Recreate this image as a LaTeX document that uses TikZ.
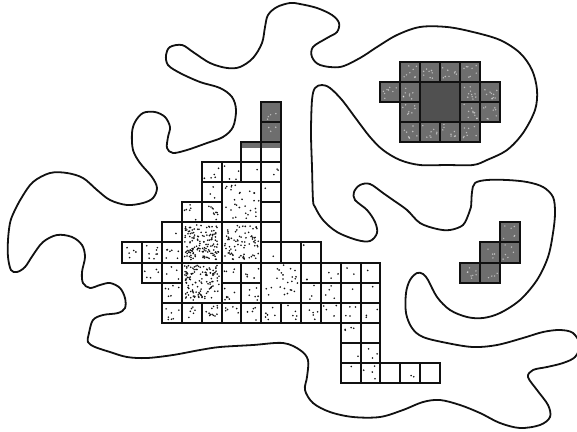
\documentclass[tikz,border=0pt]{standalone}
\usepackage{tikz}
\definecolor{tinta}{HTML}{111111}
\definecolor{sombra}{HTML}{6E6E6E}
\definecolor{oscuro}{HTML}{505050}

\begin{document}
\begin{tikzpicture}[
  x=1pt, y=-1pt,
  borde/.style={draw=tinta, line width=1.8pt},
  celda/.style={draw=tinta, line width=2pt, fill=white},
  gris/.style={celda, fill=sombra},
  grisosc/.style={celda, fill=oscuro},
  punto/.style={fill=tinta},
  brillo/.style={fill=white, opacity=0.55}
]
\useasboundingbox (0,0) rectangle (577,431);
\pgfmathsetseed{4711}

% contorno
\draw[borde] plot[smooth cycle, tension=0.55] coordinates {
  (300,4) (290,3) (277,7) (268,15) (265,27) (262,43) (253,58) (240,67)
  (227,68) (210,63) (193,52) (182,45) (170,47) (166,55) (168,65) (180,73)
  (200,82) (220,88) (232,97) (236,110) (233,127) (223,137) (207,143)
  (187,150) (173,153) (167,148) (168,137) (170,127) (165,117) (155,112)
  (143,113) (135,122) (132,133) (133,150) (140,163) (152,177) (157,188)
  (153,198) (143,203) (127,205) (110,200) (97,190) (83,178) (67,173)
  (50,173) (33,182) (22,197) (14,212) (10,223) (8,240) (8,257) (11,270)
  (17,272) (25,267) (33,255) (43,242) (57,235) (72,237) (82,245) (85,257)
  (82,272) (83,283) (90,288) (100,285) (110,283) (120,288) (125,298)
  (125,308) (118,313) (103,315) (93,320) (89,333) (88,342) (95,347)
  (110,352) (127,357) (147,358) (173,355) (200,350) (220,347) (253,345)
  (283,343) (300,350) (308,360) (307,377) (305,390) (313,403) (330,412)
  (353,417) (380,417) (403,410) (423,402) (440,400) (460,405) (480,413)
  (500,423) (520,428) (540,425) (550,417) (548,405) (537,390) (528,377)
  (533,370) (547,367) (563,363) (575,357) (580,345) (573,333) (560,330)
  (543,332) (523,338) (497,345) (473,347) (447,343) (423,337) (412,328)
  (406,313) (406,293) (410,280) (417,273) (423,274) (428,280) (437,297)
  (450,310) (467,317) (483,318) (500,313) (520,300) (537,280) (548,257)
  (553,233) (555,213) (553,197) (543,187) (527,182) (507,180) (487,180)
  (475,183) (472,192) (471,207) (469,213) (463,225) (450,230) (437,229)
  (420,223) (407,210) (393,200) (383,193) (370,184) (360,185) (354,192)
  (355,200) (367,210) (375,222) (377,233) (370,241) (357,240) (337,232)
  (323,220) (315,207) (313,200) (312,167) (311,133) (312,100) (315,88)
  (322,85) (330,88) (342,100) (357,120) (370,137) (383,150) (400,160)
  (420,165) (447,165) (473,165) (487,160) (507,150) (523,133) (535,110)
  (537,90) (532,70) (520,53) (500,40) (473,32) (447,27) (420,27) (397,35)
  (377,47) (360,58) (340,67) (320,65) (312,57) (313,47) (327,38) (337,32)
  (339,23) (332,15) (317,8)};

% rejilla
\begin{scope}[shift={(122.3,101.7)}, x=19.86pt, y=-20.1pt]
  % casillas claras: columna/fila/ancho/alto/puntos
  \foreach \c/\r/\w/\h/\n in {
    6/2/1/1/0, 7/2/1/1/0,
    4/3/1/1/5, 5/3/1/1/4, 6/3/1/1/1, 7/3/1/1/3,
    4/4/1/1/3, 5/4/2/2/30, 7/4/1/1/1,
    3/5/1/1/6, 4/5/1/1/10, 7/5/1/1/0,
    2/6/1/1/1, 3/6/2/2/140, 5/6/2/2/80, 7/6/1/1/0,
    0/7/1/1/5, 1/7/1/1/8, 2/7/1/1/7, 7/7/1/1/1, 8/7/1/1/0, 9/7/1/1/1,
    1/8/1/1/5, 2/8/1/1/4, 3/8/2/2/120, 5/8/1/1/4, 6/8/1/1/5, 7/8/2/2/25,
    9/8/1/1/2, 10/8/1/1/3, 11/8/1/1/2, 12/8/1/1/1,
    2/9/1/1/6, 5/9/1/1/7, 6/9/1/1/6, 9/9/1/1/3, 10/9/1/1/4, 11/9/1/1/1,
    12/9/1/1/1,
    2/10/1/1/7, 3/10/1/1/6, 4/10/1/1/12, 5/10/1/1/6, 6/10/1/1/5,
    7/10/1/1/6, 8/10/1/1/5, 9/10/1/1/5, 10/10/1/1/4, 11/10/1/1/4,
    12/10/1/1/3,
    11/11/1/1/4, 12/11/1/1/0, 11/12/1/1/1, 12/12/1/1/3,
    11/13/1/1/1, 12/13/1/1/4, 13/13/1/1/0, 14/13/1/1/2, 15/13/1/1/0} {
    \draw[celda] (\c,\r) rectangle ++(\w,\h);
    \ifnum\n>0
      \foreach \k in {1,...,\n}
        \fill[punto] ({\c+0.13+(\w-0.26)*rnd},{\r+0.13+(\h-0.26)*rnd}) circle[radius=0.9pt];
    \fi
  }
  % franja oscura arriba
  \fill[sombra] (6,2) rectangle (8,2.3);
  \draw[celda, fill=none] (6,2) rectangle ++(1,1) (7,2) rectangle ++(1,1);

  % casillas grises: columna/fila/brillos
  \foreach \c/\r/\n in {7/0/4, 7/1/3,
                        14/-2/8, 15/-2/8, 16/-2/8, 17/-2/8, 13/-1/8, 14/-1/8,
                        17/-1/10, 18/-1/10, 14/0/8, 17/0/10, 18/0/8,
                        14/1/8, 15/1/8, 16/1/8, 17/1/8,
                        19/6/6, 18/7/4, 19/7/6, 17/8/8, 18/8/4} {
    \draw[gris] (\c,\r) rectangle ++(1,1);
    \foreach \k in {1,...,\n}
      \fill[brillo] ({\c+0.12+0.76*rnd},{\r+0.12+0.76*rnd}) circle[radius=0.8pt];
  }
  \draw[grisosc] (15,-1) rectangle ++(2,2);
\end{scope}
\end{tikzpicture}
\end{document}
